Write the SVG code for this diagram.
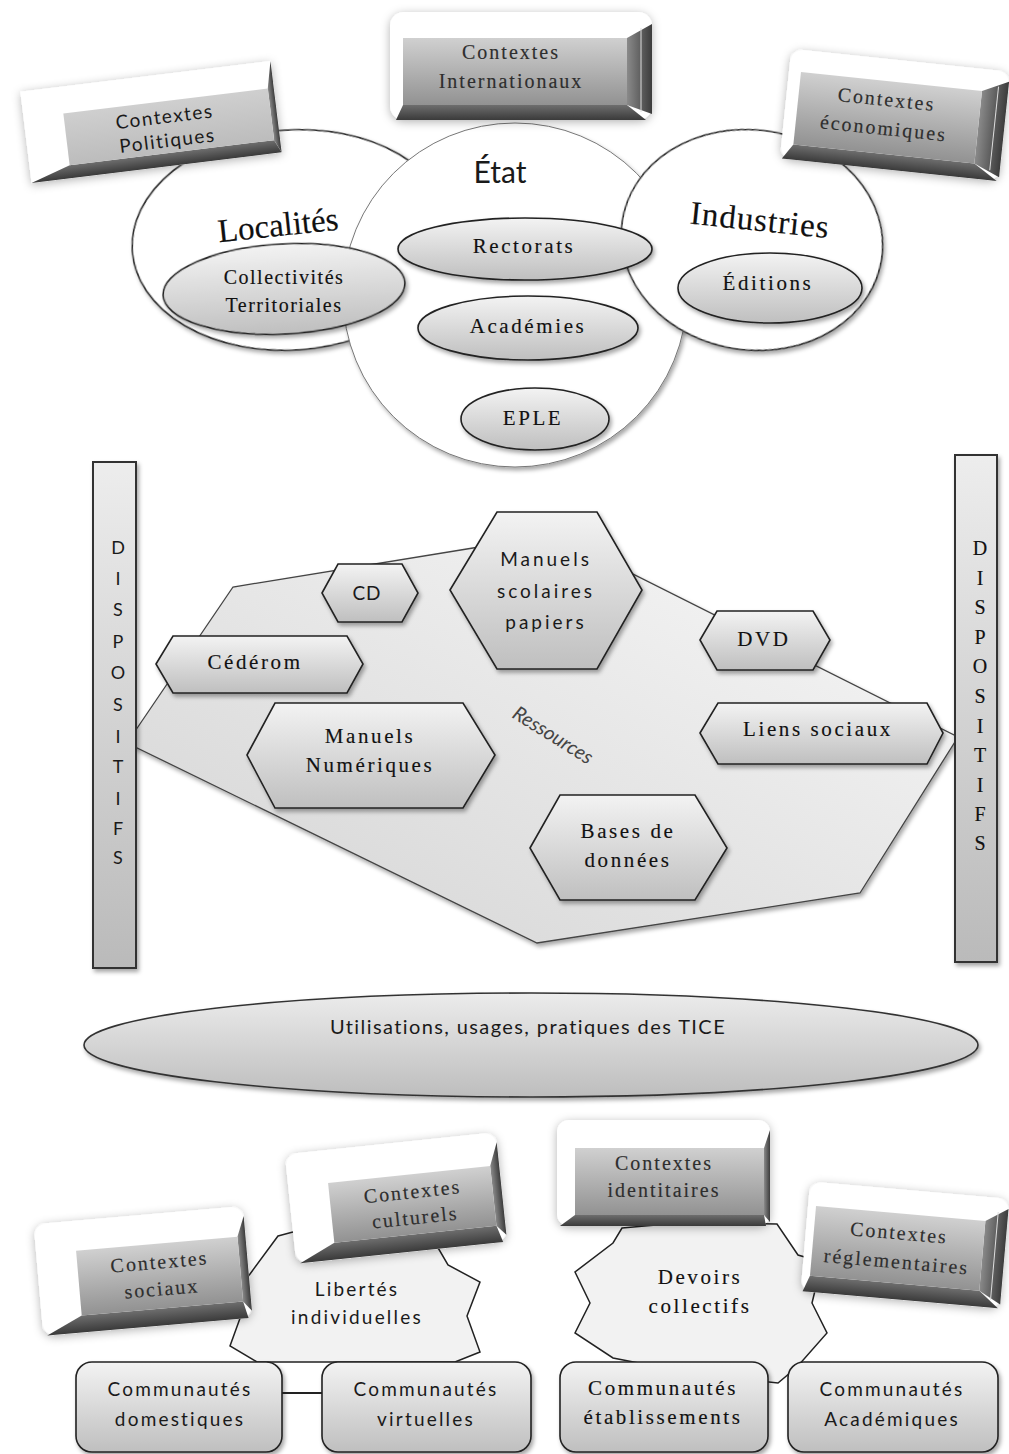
<svg xmlns="http://www.w3.org/2000/svg" width="1009" height="1454" viewBox="0 0 1009 1454">
<defs>
  <linearGradient id="gShape" x1="0" y1="0" x2="0" y2="1">
    <stop offset="0" stop-color="#f3f3f3"/>
    <stop offset="1" stop-color="#bfbfbf"/>
  </linearGradient>
  <linearGradient id="gFace" x1="0" y1="0" x2="0" y2="1">
    <stop offset="0" stop-color="#d0d0d0"/>
    <stop offset="1" stop-color="#929292"/>
  </linearGradient>
  <linearGradient id="gFaceLight" x1="0" y1="0" x2="0" y2="1">
    <stop offset="0" stop-color="#cfcfcf"/>
    <stop offset="1" stop-color="#bcbcbc"/>
  </linearGradient>
  <linearGradient id="gDark" x1="0" y1="0" x2="1" y2="0">
    <stop offset="0" stop-color="#8a8a8a"/>
    <stop offset="1" stop-color="#3c3c3c"/>
  </linearGradient>
  <linearGradient id="gDarkV" x1="0" y1="0" x2="0" y2="1">
    <stop offset="0" stop-color="#6e6e6e"/>
    <stop offset="1" stop-color="#3a3a3a"/>
  </linearGradient>
  <linearGradient id="gBar" x1="0" y1="0" x2="0" y2="1">
    <stop offset="0" stop-color="#ededed"/>
    <stop offset="1" stop-color="#bababa"/>
  </linearGradient>
  <linearGradient id="gPoly" x1="1" y1="0" x2="0" y2="1">
    <stop offset="0" stop-color="#f9f9f9"/>
    <stop offset="1" stop-color="#d3d3d3"/>
  </linearGradient>
  <linearGradient id="gBig" x1="0" y1="0" x2="0" y2="1">
    <stop offset="0" stop-color="#ececec"/>
    <stop offset="1" stop-color="#bdbdbd"/>
  </linearGradient>
  <filter id="sh" x="-20%" y="-20%" width="140%" height="150%">
    <feDropShadow dx="2" dy="3" stdDeviation="2" flood-color="#000" flood-opacity="0.35"/>
  </filter>
  <filter id="shSoft" x="-20%" y="-30%" width="140%" height="160%">
    <feDropShadow dx="0" dy="2" stdDeviation="5" flood-color="#000" flood-opacity="0.3"/>
  </filter>
  <style>
    .shape{fill:url(#gShape);stroke:#222;stroke-width:1.6;filter:url(#sh)}
    .circ{fill:#fff;stroke:#2a2a2a;stroke-width:1.6;filter:url(#sh)}
    .circThin{fill:#fff;stroke:#777;stroke-width:1;filter:url(#sh)}
    .serif{font-family:"Liberation Serif","Times New Roman",serif;fill:#111;stroke:#111;stroke-width:0.15;text-anchor:middle}
    .sans{font-family:Lato,"Open Sans","Liberation Sans",sans-serif;fill:#1a1a1a;text-anchor:middle}
    .ctx{font-family:"Liberation Serif","Times New Roman",serif;fill:#2e2e2e;stroke:#2e2e2e;stroke-width:0.15;text-anchor:middle;font-size:20px;letter-spacing:2px}
    .lbl{font-size:21px;letter-spacing:2.6px}
    .slbl{font-size:19px;letter-spacing:2.2px}
    .white{fill:#fff}
    .face{fill:url(#gFace)}
    .dark{fill:url(#gDark)}
    .darkv{fill:url(#gDarkV)}
    .bar{fill:url(#gBar);stroke:#333;stroke-width:2;filter:url(#sh)}
    .star{fill:#f2f2f2;stroke:#222;stroke-width:1.5}
    .comm{fill:url(#gShape);stroke:#222;stroke-width:1.6;filter:url(#sh)}
    .conn{stroke:#222;stroke-width:2;fill:none}
  </style>
</defs>
<rect width="1009" height="1454" fill="#fff"/>

<!-- ===== Top: spheres ===== -->
<g id="localites"><ellipse class="circ" cx="292" cy="240" rx="160" ry="110" transform="rotate(-4 292 240)"/></g>
<g id="etat"><ellipse class="circThin" cx="515" cy="295" rx="172" ry="172"/></g>
<g id="industries"><ellipse class="circ" cx="752" cy="240" rx="131" ry="110" transform="rotate(8 752 240)"/></g>

<!-- Contextes Politiques -->
<g id="ctx-politiques" transform="rotate(-7 151 122)">
  <g filter="url(#shSoft)">
    <rect class="white" x="25" y="76" width="252" height="92"/>
  </g>
  <polygon class="darkv" points="25,168 277,168 271,155 65,155"/>
  <polygon class="dark" points="277,76 277,168 271,155 271,103"/>
  <rect x="65" y="103" width="206" height="52" fill="url(#gFaceLight)"/>
  <text class="sans" x="165" y="125" font-size="19" letter-spacing="1.5" fill="#333">Contextes</text>
  <text class="sans" x="165" y="149" font-size="19" letter-spacing="1.5" fill="#333">Politiques</text>
</g>

<!-- Contextes Internationaux -->
<g id="ctx-internationaux">
  <g filter="url(#shSoft)">
    <rect class="white" x="390" y="12" width="262" height="108" rx="14"/>
  </g>
  <polygon class="darkv" points="396,120 646,120 627,105 403,105"/>
  <polygon class="dark" points="652,24 652,114 627,105 627,38"/>
  <line x1="641" y1="28" x2="641" y2="112" stroke="#ddd" stroke-width="1"/>
  <rect class="face" x="403" y="38" width="224" height="67"/>
  <text class="ctx" x="511" y="59" font-size="22" letter-spacing="2.4">Contextes</text>
  <text class="ctx" x="511" y="88" font-size="22" letter-spacing="2.4">Internationaux</text>
</g>

<!-- Contextes économiques -->
<g id="ctx-economiques" transform="rotate(6 895 115)">
  <g filter="url(#shSoft)">
    <rect class="white" x="785" y="60" width="220" height="110" rx="12"/>
  </g>
  <polygon class="darkv" points="787,170 1003,170 979,155 797,155"/>
  <polygon class="dark" points="1005,70 1005,166 979,155 979,82"/>
  <line x1="995" y1="76" x2="995" y2="160" stroke="#ddd" stroke-width="1"/>
  <rect class="face" x="797" y="82" width="182" height="73"/>
  <text class="ctx" x="885" y="107" letter-spacing="2.2">Contextes</text>
  <text class="ctx" x="885" y="136" letter-spacing="2.2">économiques</text>
</g>

<!-- inner ellipses -->
<g id="collectivites">
  <ellipse class="shape" cx="284" cy="289" rx="121" ry="45" transform="rotate(-3 284 289)"/>
  <text class="serif" x="284" y="284" font-size="20" letter-spacing="1.5">Collectivités</text>
  <text class="serif" x="284" y="312" font-size="20" letter-spacing="1.5">Territoriales</text>
</g>
<g id="rectorats">
  <ellipse class="shape" cx="525" cy="249" rx="127" ry="31"/>
  <text class="serif lbl" x="524" y="253">Rectorats</text>
</g>
<g id="academies">
  <ellipse class="shape" cx="528" cy="328" rx="110" ry="32"/>
  <text class="serif lbl" x="528" y="333" letter-spacing="3">Académies</text>
</g>
<g id="eple">
  <ellipse class="shape" cx="535" cy="419" rx="74" ry="31"/>
  <text class="serif lbl" x="533" y="425">EPLE</text>
</g>
<g id="editions">
  <ellipse class="shape" cx="770" cy="288" rx="92" ry="35"/>
  <text class="serif lbl" x="768" y="290">Éditions</text>
</g>

<text class="sans" x="500" y="183" font-size="30">État</text>
<text class="serif" x="278" y="236" font-size="33" stroke-width="0.1" transform="rotate(-6 278 225)">Localités</text>
<text class="serif" x="760" y="231" font-size="33" letter-spacing="1" stroke-width="0.1" transform="rotate(6 760 220)">Industries</text>

<!-- ===== Middle: Ressources ===== -->
<g id="ressources">
  <polygon points="127,743 233,587 473,548 555,535 958,737 860,893 537,943" fill="url(#gPoly)" stroke="#444" stroke-width="1.3" filter="url(#sh)"/>
  <text x="553" y="742" font-family="Lato,'Open Sans','Liberation Sans',sans-serif" font-style="italic" font-size="20" fill="#444" text-anchor="middle" transform="rotate(32 553 735)">Ressources</text>
</g>

<g id="cd">
  <polygon class="shape" points="322,593 338,564 402,564 418,593 402,622 338,622"/>
  <text class="sans" x="367" y="600" font-size="19" letter-spacing="1">CD</text>
</g>
<g id="cederom">
  <polygon class="shape" points="156,664 173,636 347,636 363,664 347,693 173,693"/>
  <text class="serif lbl" x="255" y="669" letter-spacing="3">Cédérom</text>
</g>
<g id="manuels-scolaires">
  <polygon class="shape" points="450,590 497,512 597,512 642,590 597,669 497,669"/>
  <text class="sans" x="546" y="566" font-size="19" letter-spacing="3">Manuels</text>
  <text class="sans" x="546" y="598" font-size="19" letter-spacing="3">scolaires</text>
  <text class="sans" x="546" y="629" font-size="19" letter-spacing="3">papiers</text>
</g>
<g id="dvd">
  <polygon class="shape" points="700,640 717,611 813,611 830,640 813,670 717,670"/>
  <text class="serif lbl" x="764" y="646" letter-spacing="3">DVD</text>
</g>
<g id="liens-sociaux">
  <polygon class="shape" points="700,733 718,703 927,703 943,733 927,764 718,764"/>
  <text class="serif lbl" x="818" y="736">Liens sociaux</text>
</g>
<g id="manuels-numeriques">
  <polygon class="shape" points="247,755 275,703 463,703 495,755 463,808 275,808"/>
  <text class="serif lbl" x="370" y="743" letter-spacing="3.2">Manuels</text>
  <text class="serif lbl" x="370" y="772" letter-spacing="3">Numériques</text>
</g>
<g id="bases-donnees">
  <polygon class="shape" points="530,848 560,795 695,795 727,848 695,900 560,900"/>
  <text class="serif lbl" x="628" y="838" letter-spacing="3">Bases de</text>
  <text class="serif lbl" x="628" y="867" letter-spacing="3">données</text>
</g>

<!-- Dispositifs bars -->
<g id="dispositifs-gauche">
  <rect class="bar" x="93" y="462" width="43" height="506"/>
  <g class="sans" font-size="18" fill="#333">
    <text x="118" y="554">D</text><text x="118" y="585">I</text><text x="118" y="616">S</text>
    <text x="118" y="648">P</text><text x="118" y="679">O</text><text x="118" y="711">S</text>
    <text x="118" y="743">I</text><text x="118" y="773">T</text><text x="118" y="805">I</text>
    <text x="118" y="835">F</text><text x="118" y="864">S</text>
  </g>
</g>
<g id="dispositifs-droite">
  <rect class="bar" x="955" y="455" width="42" height="507"/>
  <g class="serif" font-size="20">
    <text x="980" y="555">D</text><text x="980" y="585">I</text><text x="980" y="614">S</text>
    <text x="980" y="644">P</text><text x="980" y="673">O</text><text x="980" y="703">S</text>
    <text x="980" y="733">I</text><text x="980" y="762">T</text><text x="980" y="792">I</text>
    <text x="980" y="821">F</text><text x="980" y="850">S</text>
  </g>
</g>

<!-- Utilisations -->
<g id="utilisations">
  <ellipse cx="531" cy="1045" rx="447" ry="52" fill="url(#gBig)" stroke="#333" stroke-width="1.6" filter="url(#sh)"/>
  <text class="sans" x="528" y="1034" font-size="20" letter-spacing="1.4">Utilisations,  usages, pratiques des TICE</text>
</g>

<!-- ===== Bottom ===== -->
<g id="libertes">
  <polygon class="star" points="278,1236 330,1222 437,1246 448,1265 480,1282 467,1316 480,1352 455,1362 257,1362 230,1346 243,1310 236,1290 250,1274"/>
  <text class="sans slbl" x="357" y="1296" letter-spacing="2.5">Libertés</text>
  <text class="sans slbl" x="357" y="1324" letter-spacing="2.5">individuelles</text>
</g>
<g id="devoirs">
  <polygon class="star" points="622,1228 690,1222 777,1224 798,1255 822,1262 812,1303 827,1333 797,1367 778,1383 700,1375 613,1358 575,1333 590,1303 575,1272 613,1243"/>
  <text class="serif lbl" x="700" y="1284" letter-spacing="3">Devoirs</text>
  <text class="serif lbl" x="700" y="1313">collectifs</text>
</g>

<!-- Contextes sociaux -->
<g id="ctx-sociaux" transform="rotate(-5 143 1270)">
  <g filter="url(#shSoft)">
    <rect class="white" x="38" y="1215" width="210" height="112" rx="12"/>
  </g>
  <polygon class="darkv" points="42,1327 244,1327 240,1310 78,1310"/>
  <polygon class="dark" points="248,1225 248,1320 240,1310 240,1245"/>
  <rect class="face" x="78" y="1245" width="162" height="65"/>
  <text class="ctx" x="160" y="1270">Contextes</text>
  <text class="ctx" x="160" y="1297">sociaux</text>
</g>

<!-- Contextes culturels -->
<g id="ctx-culturels" transform="rotate(-6 396 1198)">
  <g filter="url(#shSoft)">
    <rect class="white" x="290" y="1143" width="212" height="110" rx="12"/>
  </g>
  <polygon class="darkv" points="294,1253 498,1253 493,1236 330,1236"/>
  <polygon class="dark" points="502,1153 502,1246 493,1236 493,1176"/>
  <rect class="face" x="330" y="1176" width="163" height="60"/>
  <text class="ctx" x="413" y="1200">Contextes</text>
  <text class="ctx" x="413" y="1226">culturels</text>
</g>

<!-- Contextes identitaires -->
<g id="ctx-identitaires">
  <g filter="url(#shSoft)">
    <rect class="white" x="557" y="1120" width="213" height="106" rx="12"/>
  </g>
  <polygon class="darkv" points="560,1226 766,1226 764,1215 575,1215"/>
  <polygon class="dark" points="770,1130 770,1222 764,1215 764,1148"/>
  <rect class="face" x="575" y="1148" width="189" height="67"/>
  <text class="ctx" x="664" y="1170" font-size="21" letter-spacing="2.5">Contextes</text>
  <text class="ctx" x="664" y="1197" font-size="21" letter-spacing="2.2">identitaires</text>
</g>

<!-- Contextes réglementaires -->
<g id="ctx-reglementaires" transform="rotate(5 905 1245)">
  <g filter="url(#shSoft)">
    <rect class="white" x="805" y="1190" width="200" height="110" rx="12"/>
  </g>
  <polygon class="darkv" points="807,1300 1003,1300 983,1284 813,1284"/>
  <polygon class="dark" points="1005,1200 1005,1296 983,1284 983,1214"/>
  <line x1="995" y1="1204" x2="995" y2="1292" stroke="#ddd" stroke-width="1"/>
  <rect class="face" x="813" y="1214" width="170" height="70"/>
  <text class="ctx" x="898" y="1240" font-size="20" letter-spacing="2">Contextes</text>
  <text class="ctx" x="898" y="1269" font-size="20" letter-spacing="0.6">réglementaires</text>
</g>

<!-- Communautés -->
<g id="comm-domestiques">
  <rect class="comm" x="76" y="1362" width="206" height="90" rx="16"/>
  <text class="sans slbl" x="180" y="1396">Communautés</text>
  <text class="sans slbl" x="180" y="1426">domestiques</text>
</g>
<g id="comm-virtuelles">
  <rect class="comm" x="322" y="1362" width="209" height="90" rx="16"/>
  <text class="sans slbl" x="426" y="1396">Communautés</text>
  <text class="sans slbl" x="426" y="1426">virtuelles</text>
</g>
<g id="comm-etablissements">
  <rect class="comm" x="560" y="1362" width="208" height="90" rx="16"/>
  <text class="serif lbl" x="663" y="1395" letter-spacing="3.2">Communautés</text>
  <text class="serif lbl" x="663" y="1424" letter-spacing="1.8">établissements</text>
</g>
<g id="comm-academiques">
  <rect class="comm" x="788" y="1362" width="210" height="90" rx="16"/>
  <text class="sans slbl" x="892" y="1396">Communautés</text>
  <text class="sans slbl" x="892" y="1426">Académiques</text>
</g>

<g id="connectors">
  <line class="conn" x1="282" y1="1393" x2="322" y2="1393"/>
</g>
</svg>
